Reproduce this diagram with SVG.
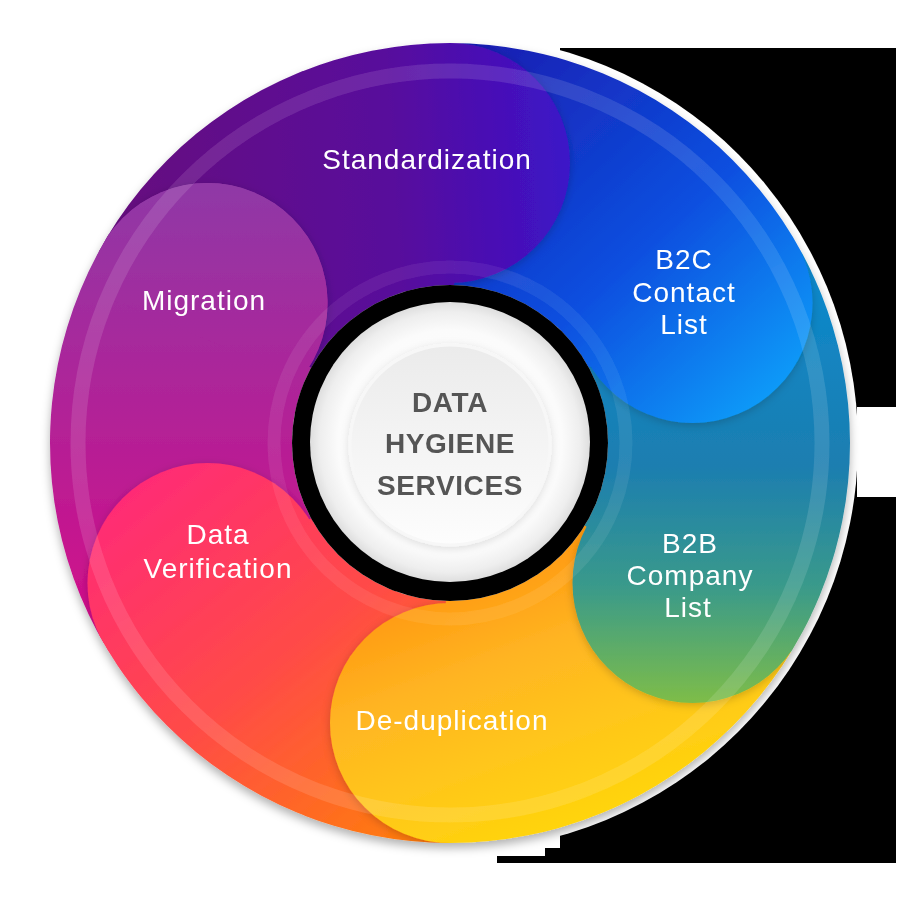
<svg xmlns="http://www.w3.org/2000/svg" width="900" height="900" viewBox="0 0 900 900">
<style>
.lbl{font-family:"Liberation Sans",Arial,sans-serif;font-size:28px;fill:#ffffff;text-anchor:middle;letter-spacing:1px}
.ctr{font-family:"Liberation Sans",Arial,sans-serif;font-size:28px;font-weight:700;fill:#555555;text-anchor:middle;letter-spacing:0.6px}
.band{fill:none;stroke:#ffffff}
.lobe{filter:url(#segShadow)}
</style>
<defs>
<clipPath id="ann"><path clip-rule="evenodd" d="M50,443 A400,400 0 1,1 850,443 A400,400 0 1,1 50,443 Z M292,443 A158,158 0 1,0 608,443 A158,158 0 1,0 292,443 Z"/></clipPath>
<clipPath id="stdWedge"><path d="M450,443 L89.68,247.36 A410,410 0 0 1 460.73,33.14 Z"/></clipPath>
<clipPath id="stdWedge2"><path d="M450,443 L72.59,282.8 A410,410 0 0 1 460.73,33.14 Z"/></clipPath>
<filter id="ringShadow" x="-10%" y="-10%" width="120%" height="125%"><feDropShadow dx="0" dy="5" stdDeviation="5" flood-color="#000" flood-opacity="0.3"/></filter>
<filter id="segShadow" x="-20%" y="-20%" width="140%" height="140%"><feDropShadow dx="0" dy="2" stdDeviation="4" flood-color="#000" flood-opacity="0.2"/></filter>
<filter id="discShadow" x="-30%" y="-30%" width="160%" height="160%"><feDropShadow dx="0" dy="2" stdDeviation="4" flood-color="#000" flood-opacity="0.12"/></filter>
<linearGradient id="gStd" gradientUnits="userSpaceOnUse" x1="130" y1="200" x2="570" y2="170"><stop offset="0" stop-color="#660a80"/><stop offset="0.6" stop-color="#580a9c"/><stop offset="1" stop-color="#3c14c8"/></linearGradient>
<linearGradient id="gB2C" gradientUnits="userSpaceOnUse" x1="480" y1="60" x2="790" y2="400"><stop offset="0" stop-color="#1a20b4"/><stop offset="0.55" stop-color="#0a50e0"/><stop offset="1" stop-color="#0aa0fa"/></linearGradient>
<linearGradient id="gB2B" gradientUnits="userSpaceOnUse" x1="700" y1="250" x2="700" y2="700"><stop offset="0" stop-color="#0a8ad0"/><stop offset="0.48" stop-color="#1c7eb0"/><stop offset="0.75" stop-color="#3a9a8a"/><stop offset="1" stop-color="#7cbc4a"/></linearGradient>
<linearGradient id="gDed" gradientUnits="userSpaceOnUse" x1="520" y1="560" x2="620" y2="830"><stop offset="0" stop-color="#ff9a10"/><stop offset="0.3" stop-color="#ffb422"/><stop offset="0.6" stop-color="#ffc51c"/><stop offset="1" stop-color="#ffd808"/></linearGradient>
<linearGradient id="gDV" gradientUnits="userSpaceOnUse" x1="150" y1="480" x2="420" y2="820"><stop offset="0" stop-color="#ff2c74"/><stop offset="0.5" stop-color="#ff4a48"/><stop offset="1" stop-color="#ff7a10"/></linearGradient>
<linearGradient id="gMig" gradientUnits="userSpaceOnUse" x1="200" y1="190" x2="200" y2="640"><stop offset="0" stop-color="#9038a6"/><stop offset="1" stop-color="#d40c88"/></linearGradient>
<radialGradient id="gDisc" cx="450" cy="442" r="140" gradientUnits="userSpaceOnUse"><stop offset="0" stop-color="#ffffff"/><stop offset="0.8" stop-color="#fbfbfb"/><stop offset="0.93" stop-color="#eeeeee"/><stop offset="1" stop-color="#dedede"/></radialGradient>
<linearGradient id="gInner" x1="0" y1="0" x2="0" y2="1"><stop offset="0" stop-color="#ebebeb"/><stop offset="1" stop-color="#fdfdfd"/></linearGradient>
</defs>
<rect width="900" height="900" fill="#ffffff"/>
<path d="M560,48 H896 V407 H857 V497 H896 V863 H497 V856 H545 V848 H560 Z" fill="#000000"/>
<circle cx="450" cy="443" r="408" fill="#ffffff"/>
<g id="ring" filter="url(#ringShadow)">
<g clip-path="url(#ann)">
<g id="seg-migration" fill="url(#gMig)"><circle class="lobe" cx="207.51" cy="303" r="120"/><path d="M450,443 L94.93,648 A410,410 0 0 1 100.42,228.8 Z"/></g>
<g id="seg-dataverification" fill="url(#gDV)"><circle class="lobe" cx="207.51" cy="583" r="120"/><path d="M450,443 L450,853 A410,410 0 0 1 89.68,638.64 Z"/></g>
<g id="seg-dedup" fill="url(#gDed)"><circle class="lobe" cx="450" cy="723" r="120"/><path d="M450,443 L805.07,648 A410,410 0 0 1 439.27,852.86 Z"/></g>
<g id="seg-b2b" fill="url(#gB2B)"><circle class="lobe" cx="692.49" cy="583" r="120"/><path d="M450,443 L805.07,238 A410,410 0 0 1 799.58,657.2 Z"/></g>
<g id="seg-b2c" fill="url(#gB2C)"><circle class="lobe" cx="692.49" cy="303" r="120"/><path d="M450,443 L450,33 A410,410 0 0 1 810.32,247.36 Z"/></g>
<g id="seg-standardization" fill="url(#gStd)"><circle class="lobe" cx="450" cy="163" r="120"/><path d="M450,443 L89.68,247.36 A410,410 0 0 1 460.73,33.14 Z"/></g>
<g clip-path="url(#stdWedge)"><circle class="lobe" cx="207.51" cy="303" r="120" fill="url(#gMig)"/></g>
<g clip-path="url(#stdWedge2)"><circle id="lobe-migration-top" cx="207.51" cy="303" r="120" fill="url(#gMig)"/></g>
<circle class="band" cx="450" cy="443" r="372" stroke-width="15" stroke-opacity="0.12"/>
<circle class="band" cx="450" cy="443" r="176" stroke-width="13" stroke-opacity="0.08"/>
</g>
</g>
<circle cx="450" cy="443" r="158" fill="#000000"/>
<g id="center">
<circle cx="450" cy="442" r="140" fill="url(#gDisc)"/>
<circle cx="450" cy="445" r="100" fill="url(#gInner)" stroke="#f7f7f7" stroke-width="3" filter="url(#discShadow)"/>
<text class="ctr" x="450" y="412">DATA</text>
<text class="ctr" x="450" y="453">HYGIENE</text>
<text class="ctr" x="450" y="495">SERVICES</text>
</g>
<g id="node-standardization"><text class="lbl" x="427" y="169">Standardization</text></g>
<g id="node-b2c"><text class="lbl" x="684" y="269">B2C</text><text class="lbl" x="684" y="302">Contact</text><text class="lbl" x="684" y="334">List</text></g>
<g id="node-b2b"><text class="lbl" x="690" y="553">B2B</text><text class="lbl" x="690" y="585">Company</text><text class="lbl" x="688" y="617">List</text></g>
<g id="node-dedup"><text class="lbl" x="452" y="730">De-duplication</text></g>
<g id="node-dataverification"><text class="lbl" x="218" y="544">Data</text><text class="lbl" x="218" y="578">Verification</text></g>
<g id="node-migration"><text class="lbl" x="204" y="310">Migration</text></g>
<g id="connectors"></g>
</svg>
